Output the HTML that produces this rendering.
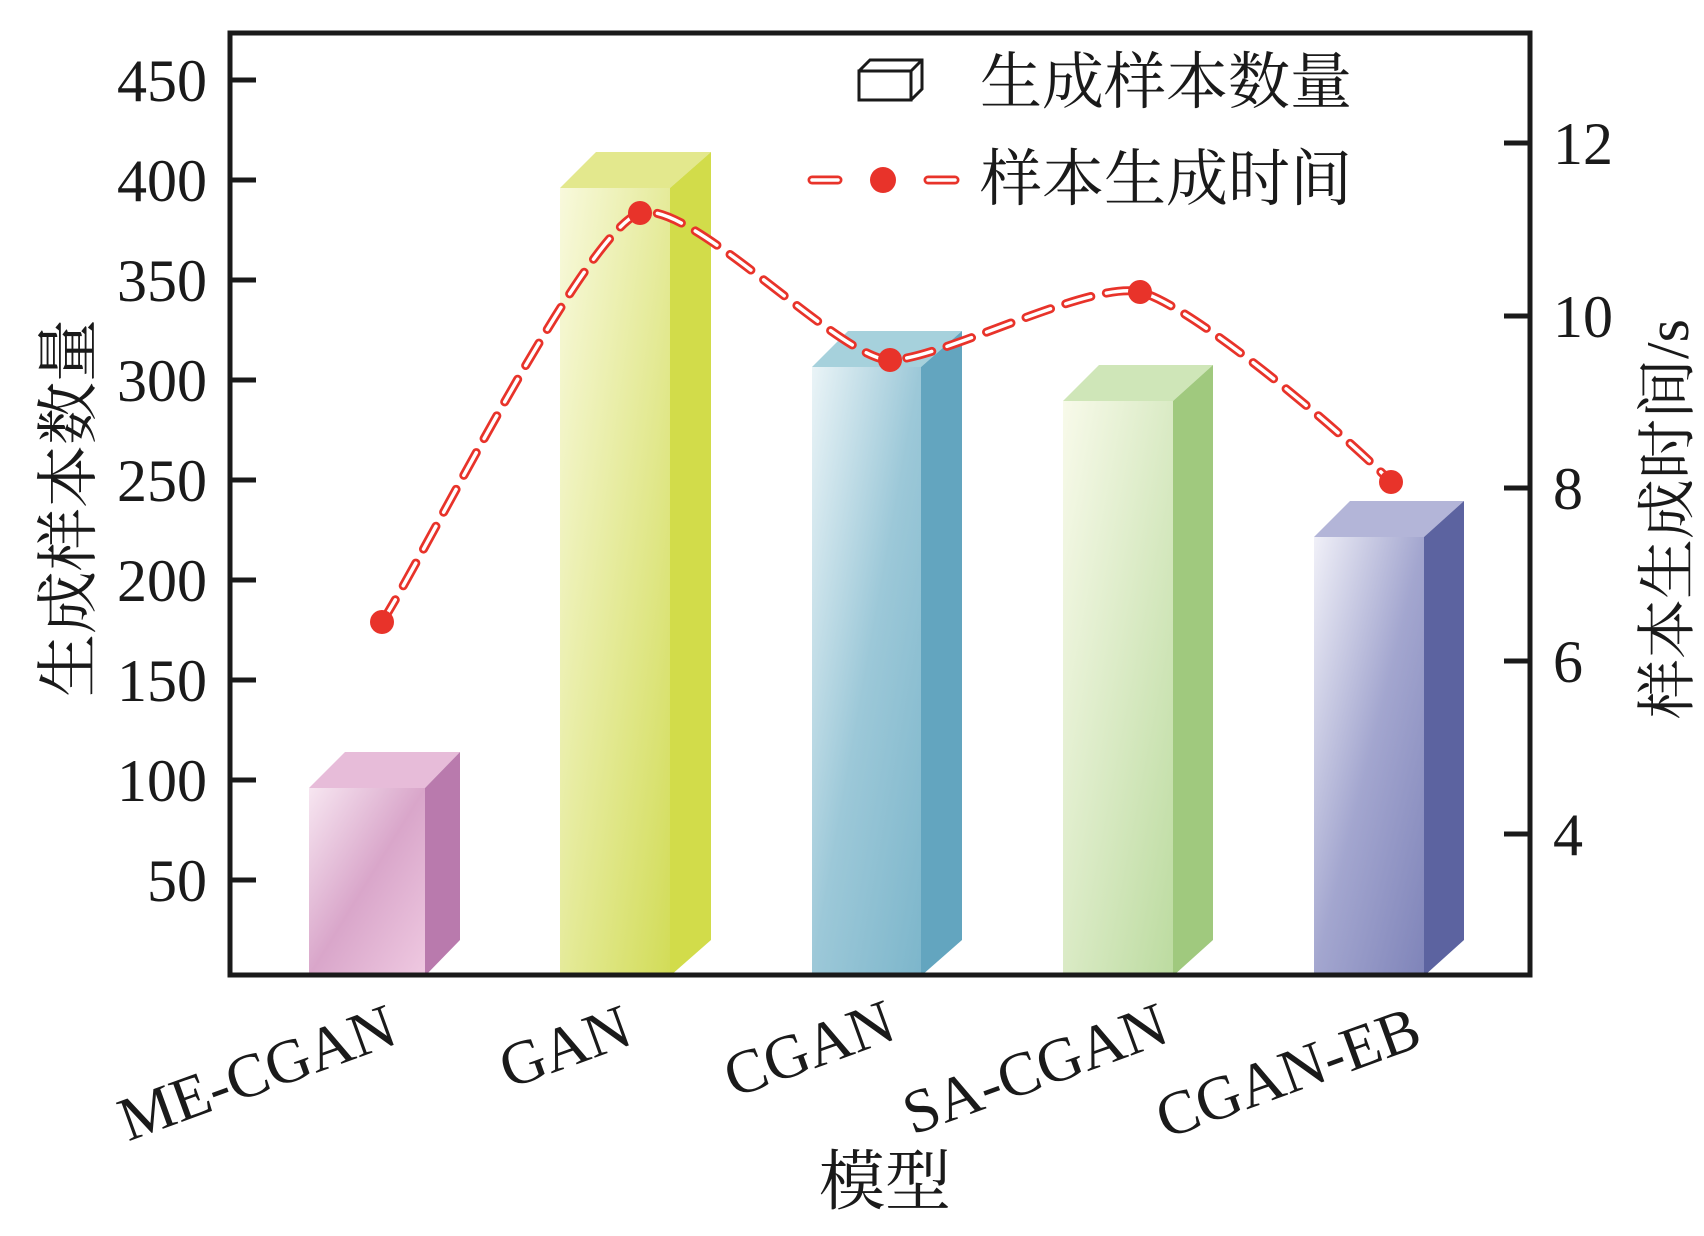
<!DOCTYPE html>
<html><head><meta charset="utf-8"><style>
html,body{margin:0;padding:0;background:#fff;}
svg{display:block;}
text{font-family:"Liberation Serif","Noto Serif CJK SC",serif;fill:#1a1a1a;}
</style></head><body>
<svg width="1704" height="1236" viewBox="0 0 1704 1236" xmlns="http://www.w3.org/2000/svg">
<defs>
<linearGradient id="g1" x1="0" y1="0" x2="1" y2="1"><stop offset="0" stop-color="#f7e6f1"/><stop offset="0.5" stop-color="#d9a6ca"/><stop offset="1" stop-color="#efc9e1"/></linearGradient>
<linearGradient id="g2" x1="0" y1="0" x2="1" y2="1"><stop offset="0" stop-color="#f8f9dc"/><stop offset="1" stop-color="#d2dc58"/></linearGradient>
<linearGradient id="g3" x1="0" y1="0" x2="1" y2="1"><stop offset="0" stop-color="#eaf4f7"/><stop offset="0.5" stop-color="#9cc8d8"/><stop offset="1" stop-color="#7db6cb"/></linearGradient>
<linearGradient id="g4" x1="0" y1="0" x2="1" y2="1"><stop offset="0" stop-color="#f8faea"/><stop offset="1" stop-color="#bcdba0"/></linearGradient>
<linearGradient id="g5" x1="0" y1="0" x2="1" y2="1"><stop offset="0" stop-color="#f0f0f8"/><stop offset="0.5" stop-color="#a3a6cf"/><stop offset="1" stop-color="#7f84b9"/></linearGradient>
</defs>
<g transform="translate(-3,0)">
<polygon points="312,788 348,752 463,752 428,788" fill="#e7bcd9"/>
<polygon points="428,788 463,752 463,940 428,976" fill="#b97aad"/>
<rect x="312" y="788" width="116" height="188" fill="url(#g1)"/>

<polygon points="563,188 599,152 714,152 673,188" fill="#e3e88d"/>
<polygon points="673,188 714,152 714,940 673,976" fill="#d2dc4a"/>
<rect x="563" y="188" width="110" height="788" fill="url(#g2)"/>

<polygon points="815,367 851,331 965,331 924,367" fill="#a6d1dc"/>
<polygon points="924,367 965,331 965,940 924,976" fill="#63a5bf"/>
<rect x="815" y="367" width="109" height="609" fill="url(#g3)"/>

<polygon points="1066,401 1102,365 1216,365 1176,401" fill="#cfe6b8"/>
<polygon points="1176,401 1216,365 1216,940 1176,976" fill="#a0c97e"/>
<rect x="1066" y="401" width="110" height="575" fill="url(#g4)"/>

<polygon points="1317,537 1353,501 1467,501 1427,537" fill="#b3b5d8"/>
<polygon points="1427,537 1467,501 1467,940 1427,976" fill="#5c63a0"/>
<rect x="1317" y="537" width="110" height="439" fill="url(#g5)"/>
</g>
<path d="M382,622 C425,555 585,230 640,213 C690,198 840,360 890,360 C940,360 1090,280 1140,292 C1190,304 1340,430 1391,482" fill="none" stroke="#e8332a" stroke-width="9" stroke-dasharray="26,16" stroke-linecap="round"/>
<path d="M382,622 C425,555 585,230 640,213 C690,198 840,360 890,360 C940,360 1090,280 1140,292 C1190,304 1340,430 1391,482" fill="none" stroke="#fff" stroke-width="3.5" stroke-dasharray="26,16" stroke-linecap="round"/>
<g fill="#e8332a">
<circle cx="382" cy="622" r="12"/><circle cx="640" cy="213" r="12"/><circle cx="890" cy="360" r="12"/><circle cx="1140" cy="292" r="12"/><circle cx="1391" cy="482" r="12"/>
</g>
<rect x="230" y="33" width="1300" height="942" fill="none" stroke="#1a1a1a" stroke-width="5"/>
<g stroke="#1a1a1a" stroke-width="5">
<line x1="230" y1="80" x2="256" y2="80"/><line x1="230" y1="180" x2="256" y2="180"/><line x1="230" y1="280" x2="256" y2="280"/><line x1="230" y1="380" x2="256" y2="380"/><line x1="230" y1="480" x2="256" y2="480"/><line x1="230" y1="580" x2="256" y2="580"/><line x1="230" y1="680" x2="256" y2="680"/><line x1="230" y1="780" x2="256" y2="780"/><line x1="230" y1="880" x2="256" y2="880"/>
<line x1="1504" y1="143" x2="1530" y2="143"/><line x1="1504" y1="316" x2="1530" y2="316"/><line x1="1504" y1="488" x2="1530" y2="488"/><line x1="1504" y1="661" x2="1530" y2="661"/><line x1="1504" y1="834" x2="1530" y2="834"/>
</g>
<g font-size="60" text-anchor="end">
<text x="207" y="101">450</text><text x="207" y="201">400</text><text x="207" y="301">350</text><text x="207" y="401">300</text><text x="207" y="501">250</text><text x="207" y="601">200</text><text x="207" y="701">150</text><text x="207" y="801">100</text><text x="207" y="901">50</text>
</g>
<g font-size="60">
<text x="1553" y="164">12</text><text x="1553" y="337">10</text><text x="1553" y="509">8</text><text x="1553" y="682">6</text><text x="1553" y="855">4</text>
</g>
<g font-size="62" text-anchor="middle">
<text transform="translate(264,1092) rotate(-20)">ME-CGAN</text>
<text transform="translate(572,1066) rotate(-20)">GAN</text>
<text transform="translate(816,1068) rotate(-20)">CGAN</text>
<text transform="translate(1042,1088) rotate(-20)">SA-CGAN</text>
<text transform="translate(1295,1092) rotate(-20)">CGAN-EB</text>
</g>
<text x="885" y="1204" font-size="66" text-anchor="middle">模型</text>
<text transform="translate(90,508) rotate(-90)" font-size="63" text-anchor="middle">生成样本数量</text>
<text transform="translate(1688,519) rotate(-90)" font-size="60" text-anchor="middle">样本生成时间/s</text>
<g fill="none" stroke="#1a1a1a" stroke-width="3">
<rect x="859" y="71" width="52" height="29"/>
<polyline points="859,71 870,60 922,60 922,89 911,100"/>
<line x1="911" y1="71" x2="922" y2="60"/>
</g>
<text x="980" y="103" font-size="62">生成样本数量</text>
<g stroke="#e8332a" stroke-width="9" stroke-linecap="round"><line x1="812" y1="180" x2="838" y2="180"/><line x1="928" y1="180" x2="955" y2="180"/></g>
<g stroke="#fff" stroke-width="3.5" stroke-linecap="round"><line x1="812" y1="180" x2="838" y2="180"/><line x1="928" y1="180" x2="955" y2="180"/></g>
<circle cx="883" cy="180" r="13" fill="#e8332a"/>
<text x="980" y="200" font-size="62">样本生成时间</text>
</svg>
</body></html>
